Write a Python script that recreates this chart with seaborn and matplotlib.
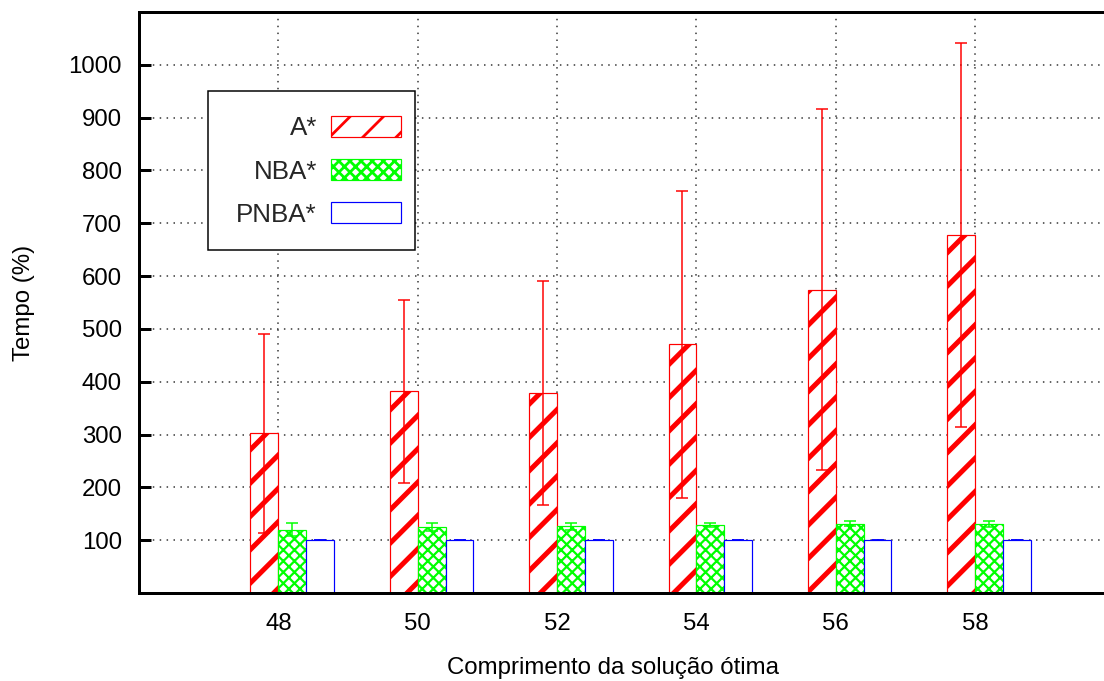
import numpy as np
import pandas as pd
import matplotlib
matplotlib.use("Agg")
import matplotlib.pyplot as plt
from matplotlib.patches import Rectangle
import seaborn as sns

# Relative runtime (%) per optimal solution length, mean and standard deviation
lengths = ["48", "50", "52", "54", "56", "58"]
algorithms = ["A*", "NBA*", "PNBA*"]
astar_mean = [302, 382, 378, 471, 574, 678]
astar_err = [189, 173, 212, 291, 342, 364]
nba_mean = [120, 125, 126, 129, 131, 131]
nba_err = [13, 7, 7, 4, 5, 6]
pnba_mean = [100, 100, 100, 100, 100, 100]
pnba_err = [0, 0, 0, 0, 0, 0]
y_ticks = [100, 200, 300, 400, 500, 600, 700, 800, 900, 1000]

means = {"A*": astar_mean, "NBA*": nba_mean, "PNBA*": pnba_mean}
errors = {"A*": astar_err, "NBA*": nba_err, "PNBA*": pnba_err}
colors = {"A*": "#ff0000", "NBA*": "#00ff00", "PNBA*": "#0000ff"}
hatches = {"A*": "//", "NBA*": "xxxxxx", "PNBA*": ""}
hatch_lw = {"A*": 1.8, "NBA*": 0.8, "PNBA*": 0.5}

DPI = 200
PX = 72.0 / DPI           # one pixel in points
FS = 24 * PX              # tick / axis label font size
LFS = 26 * PX             # legend font size

sns.set_theme(style="white")
plt.rcParams["font.family"] = ["Liberation Sans", "DejaVu Sans"]

df = pd.DataFrame({
    "length": np.tile(lengths, len(algorithms)),
    "algorithm": np.repeat(algorithms, len(lengths)),
    "value": astar_mean + nba_mean + pnba_mean,
})

fig = plt.figure(figsize=(1104 / DPI, 681 / DPI), dpi=DPI)
ax = fig.add_axes([139 / 1104, 88 / 681, 965 / 1104, 581 / 681])

sns.barplot(data=df, x="length", y="value", hue="algorithm",
            hue_order=algorithms, order=lengths, palette=colors,
            saturation=1, width=0.6, errorbar=None, legend=False, ax=ax)

handles = []
for alg, cont in zip(algorithms, ax.containers):
    xs, ys = [], []
    for bar in cont.patches:
        bar.set_facecolor("white")
        bar.set_edgecolor(colors[alg])
        bar.set_linewidth(1.2 * PX)
        bar.set_hatch(hatches[alg])
        bar.set_hatch_linewidth(hatch_lw[alg])
        xs.append(bar.get_x() + bar.get_width() / 2)
        ys.append(bar.get_height())
    ax.errorbar(xs, ys, yerr=errors[alg], fmt="none", ecolor=colors[alg],
                elinewidth=1.5 * PX, capsize=2.2, capthick=1.5 * PX, zorder=3)
    handles.append(cont.patches[0])

ax.set_xlim(-1.1, 5.825)
ax.set_ylim(0, 1100)
ax.set_xticks(np.arange(len(lengths)) - 0.1, lengths)
ax.set_yticks(y_ticks)

ax.set_axisbelow(True)
ax.grid(True, color="#333333", linestyle=(0, (1, 3.6)), linewidth=1.5 * PX)

for side in ["left", "top", "bottom"]:
    ax.spines[side].set_color("black")
    ax.spines[side].set_linewidth(3 * PX)
ax.spines["right"].set_visible(False)

ax.tick_params(axis="y", direction="in", length=12 * PX, width=3 * PX,
               pad=17 * PX, labelsize=FS, colors="black", left=True)
ax.tick_params(axis="x", direction="in", length=0, pad=20 * PX,
               labelsize=FS, colors="black")

ax.set_xlabel("Comprimento da solução ótima", fontsize=FS, color="black")
ax.set_ylabel("Tempo (%)", fontsize=FS, color="black")
ax.xaxis.set_label_coords(0.491, -0.110)
ax.yaxis.set_label_coords(-0.108, 0.5)

# legend box (white, framed) behind the legend entries
box = Rectangle((208 / 1104, 1 - 250 / 681), 207 / 1104, 159.3 / 681,
                transform=fig.transFigure, facecolor="white",
                edgecolor="black", linewidth=1.5 * PX, zorder=4.9,
                clip_on=False)
ax.add_patch(box)

leg = ax.legend(handles, algorithms, loc="upper right",
                bbox_to_anchor=(401 / 1104, 1 - 116 / 681),
                bbox_transform=fig.transFigure, borderaxespad=0,
                markerfirst=False, fontsize=LFS, handlelength=70 / 26,
                handleheight=22 / 26, handletextpad=14 / 26,
                labelspacing=0.725, borderpad=0, frameon=False)

fig.savefig("out.png", dpi=DPI)
